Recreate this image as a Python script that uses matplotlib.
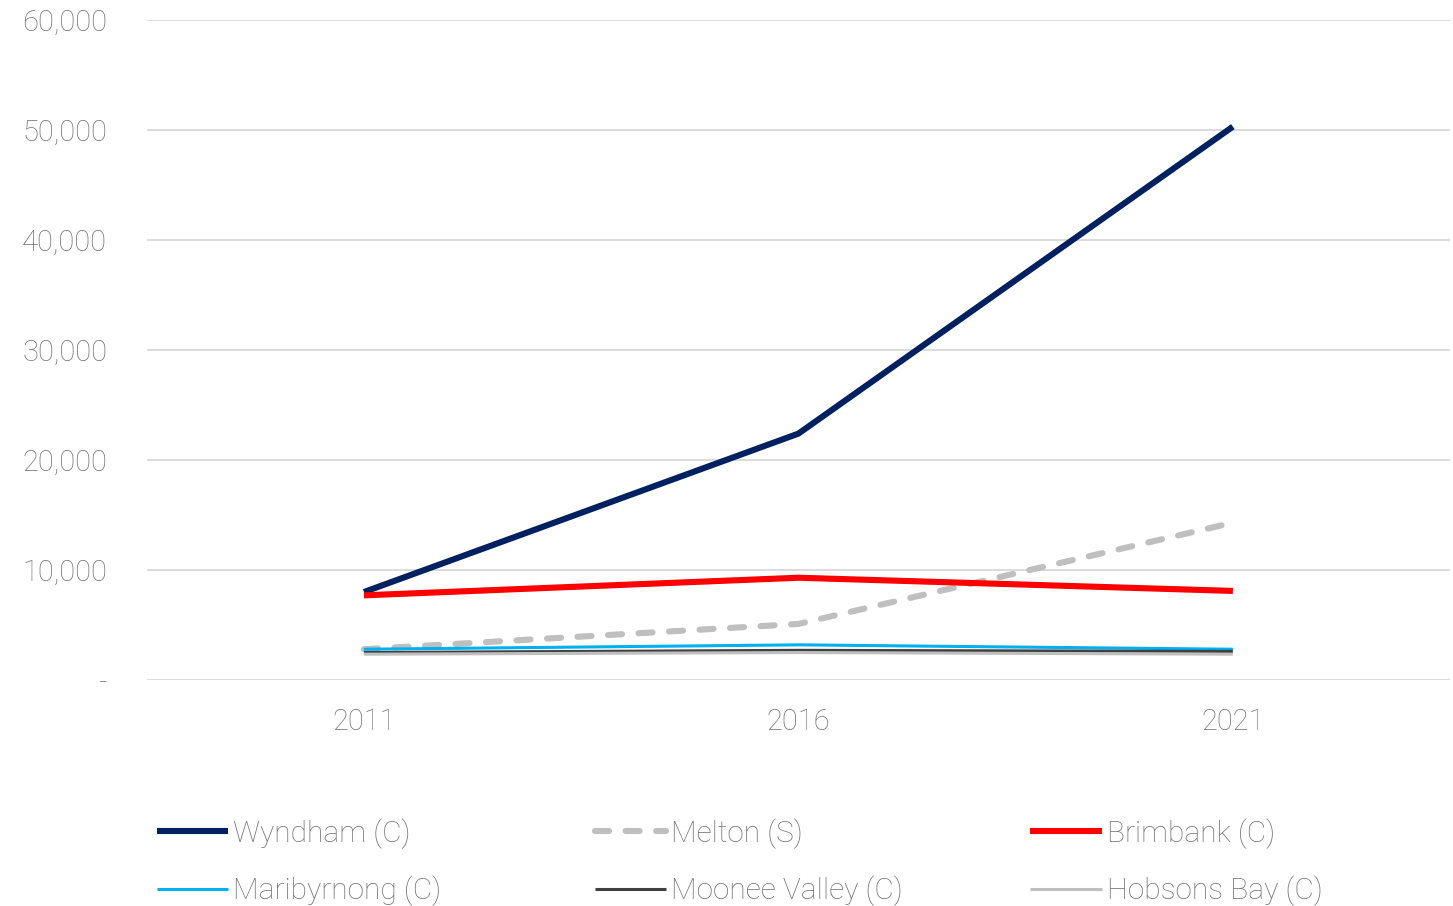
import matplotlib
matplotlib.use("Agg")
import matplotlib.pyplot as plt
from matplotlib.ticker import FuncFormatter

years = ["2011", "2016", "2021"]
wyndham = [8000, 22400, 50300]
melton = [2800, 5100, 14300]
brimbank = [7700, 9300, 8100]
maribyrnong = [2800, 3200, 2800]
moonee_valley = [2500, 2700, 2600]
hobsons_bay = [2350, 2500, 2350]

names = ["Wyndham (C)", "Melton (S)", "Brimbank (C)",
         "Maribyrnong (C)", "Moonee Valley (C)", "Hobsons Bay (C)"]
series = [wyndham, melton, brimbank, maribyrnong, moonee_valley, hobsons_bay]
colors = ["#002060", "#BFBFBF", "#FF0000", "#00B0F0", "#404040", "#BFBFBF"]
widths = [4.4, 4.4, 4.4, 2.2, 2.2, 2.2]

plt.rcParams['font.family'] = ['Roboto', 'DejaVu Sans']
plt.rcParams['font.weight'] = 'light'
txt = "#737373"

fig = plt.figure(figsize=(14.53, 9.06), dpi=100)
ax = fig.add_axes([0.101, 0.2494, 0.897, 0.7286])

x = list(range(len(years)))
handles = []
for name, vals, c, w in zip(names, series, colors, widths):
    if name.startswith("Melton"):
        ln, = ax.plot(x, vals, color=c, lw=w, label=name, dashes=(2.3, 2.7),
                      dash_capstyle='round', solid_capstyle='round')
    else:
        ln, = ax.plot(x, vals, color=c, lw=w, label=name, solid_capstyle='butt')
    handles.append(ln)

ax.set_xlim(-0.5, 2.5)
ax.set_ylim(0, 60000)
ax.set_yticks(range(0, 60001, 10000))
ax.yaxis.set_major_formatter(FuncFormatter(lambda v, p: "-" if v == 0 else f"{int(v):,}"))
ax.set_xticks(x)
ax.set_xticklabels(years)
ax.grid(axis='y', color='#D9D9D9', lw=1.3)
ax.set_axisbelow(True)
for s in ax.spines.values():
    s.set_visible(False)
ax.tick_params(axis='both', length=0, labelsize=21, labelcolor=txt)
ax.tick_params(axis='y', pad=28.5)
ax.tick_params(axis='x', pad=20)

col_x = [0.100, 0.401, 0.701]
for i, cx in enumerate(col_x):
    hs = [handles[i], handles[i + 3]]
    fig.legend(hs, [h.get_label() for h in hs], loc='upper left',
               bbox_to_anchor=(cx, 0.11), frameon=False, fontsize=21.5,
               labelcolor=txt, handlelength=2.38, handletextpad=0.17,
               labelspacing=0.9, borderaxespad=0)

fig.savefig("out.png", dpi=100, facecolor='white')
